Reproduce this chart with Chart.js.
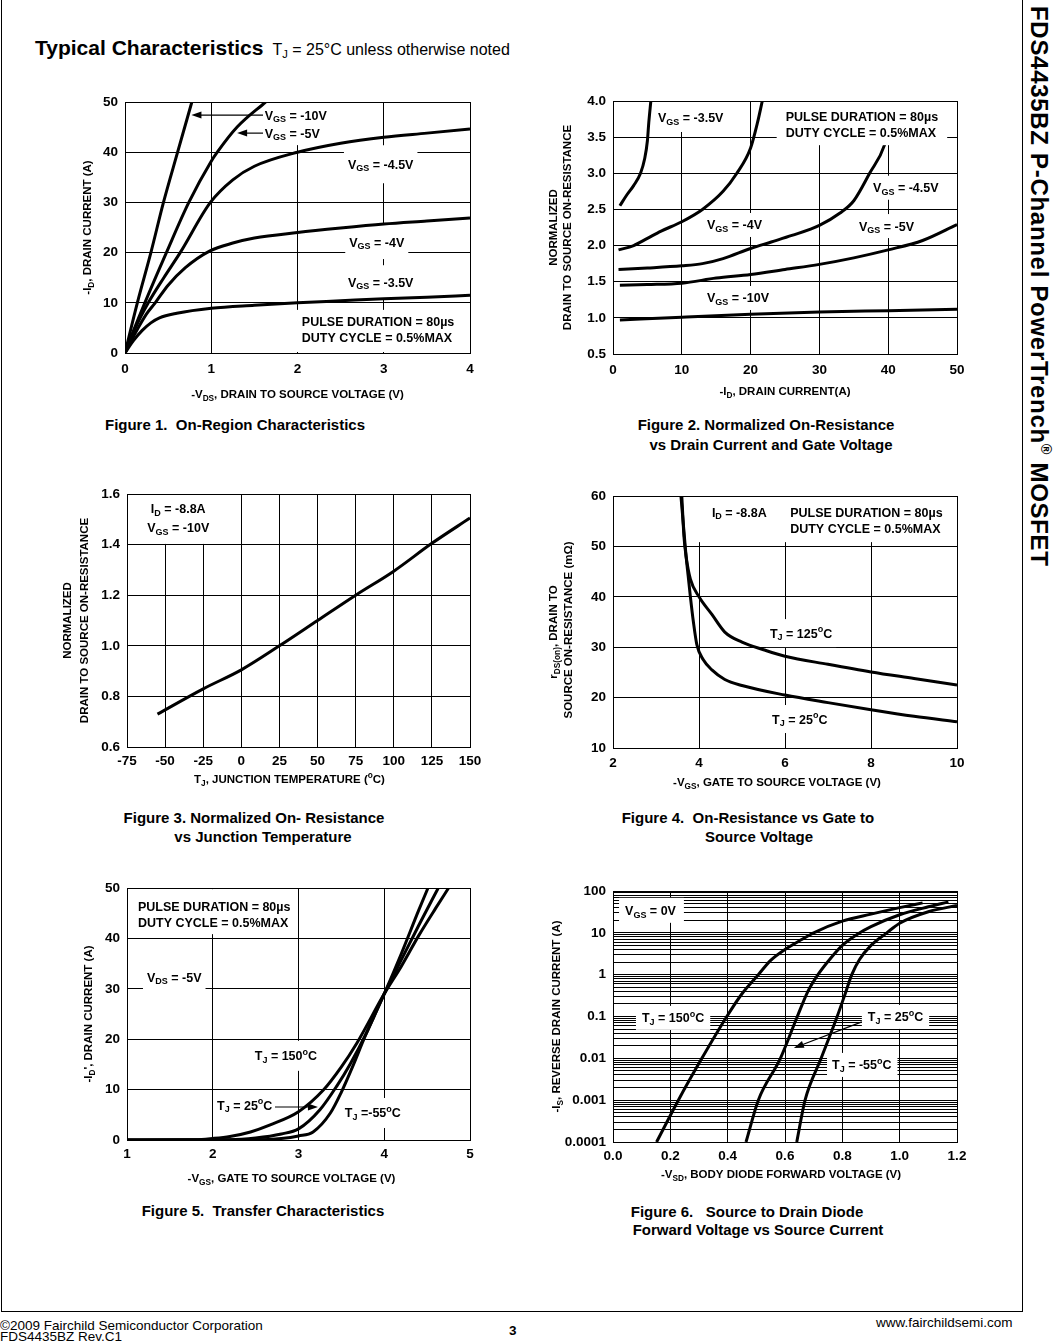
<!DOCTYPE html>
<html>
<head>
<meta charset="utf-8">
<script src="https://cdn.jsdelivr.net/npm/chart.js"></script>
<style>
body { margin: 0; background: #fff; color: #000; font-family: 'Liberation Sans', Arial, Helvetica, sans-serif; }
#page { position: relative; width: 1063px; height: 1344px; overflow: hidden; background: #fff; }
#frame { position: absolute; left: 1px; top: -2px; width: 1020px; height: 1313px; border: 1px solid #000; border-top: none; }
canvas { position: absolute; }
.cap { position: absolute; width: 500px; text-align: center; font-weight: bold; font-size: 15px; line-height: 18px; white-space: pre; }
.foot { position: absolute; font-size: 13.5px; line-height: 13px; white-space: nowrap; }
#side { position: absolute; left: 1058px; top: 6px; transform: rotate(90deg); transform-origin: left top;
        font-size: 24px; line-height: 24px; font-weight: bold; white-space: nowrap; letter-spacing: 0.7px; }
sub { font-size: 70%; vertical-align: -0.25em; }
sup { font-size: 60%; vertical-align: 0.7em; }
</style>
</head>
<body>
<div id="page">
  <div id="frame"></div>
  <div style="position:absolute;left:35px;top:36px;white-space:nowrap;">
    <span style="font-size:21px;font-weight:bold;">Typical Characteristics</span><span style="font-size:16px;margin-left:9px;">T<sub>J</sub> = 25°C unless otherwise noted</span>
  </div>
  <div id="side">FDS4435BZ P-Channel PowerTrench<sup>®</sup> MOSFET</div>

  <div class="cap" style="left:-15px;top:416px;">Figure 1.  On-Region Characteristics</div>
  <div class="cap" style="left:516px;top:416px;">Figure 2. Normalized On-Resistance</div>
  <div class="cap" style="left:521px;top:436px;">vs Drain Current and Gate Voltage</div>
  <div class="cap" style="left:4px;top:809px;">Figure 3. Normalized On- Resistance</div>
  <div class="cap" style="left:13px;top:828px;">vs Junction Temperature</div>
  <div class="cap" style="left:498px;top:809px;">Figure 4.  On-Resistance vs Gate to</div>
  <div class="cap" style="left:509px;top:828px;">Source Voltage</div>
  <div class="cap" style="left:13px;top:1202px;">Figure 5.  Transfer Characteristics</div>
  <div class="cap" style="left:497px;top:1203px;">Figure 6.   Source to Drain Diode</div>
  <div class="cap" style="left:508px;top:1221px;">Forward Voltage vs Source Current</div>

  <div class="foot" style="left:0;top:1319px;">©2009 Fairchild Semiconductor Corporation</div>
  <div class="foot" style="left:0;top:1330px;">FDS4435BZ Rev.C1</div>
  <div class="foot" style="left:509px;top:1324px;font-weight:bold;">3</div>
  <div class="foot" style="left:876px;top:1316px;">www.fairchildsemi.com</div>
</div>
<script>
// ---- Figure 1: On-region characteristics ----
const fig1XTicks = [0, 1, 2, 3, 4];
const fig1XLabels = ['0', '1', '2', '3', '4'];
const fig1YTicks = [0, 10, 20, 30, 40, 50];
const fig1YLabels = ['0', '10', '20', '30', '40', '50'];
const fig1Vgs10X = [0, 0.143, 0.30, 0.446, 0.61, 0.775];
const fig1Vgs10Y = [0, 10, 20, 30, 40, 50];
const fig1Vgs5X = [0, 0.1, 0.23, 0.48, 0.74, 1.0, 1.07, 1.3, 1.63];
const fig1Vgs5Y = [0, 4.5, 10, 20, 30, 38.2, 40, 45, 50];
const fig1Vgs45X = [0, 0.12, 0.27, 0.45, 0.64, 0.99, 1.25, 1.5, 2.0, 2.5, 3.0, 3.5, 4.0];
const fig1Vgs45Y = [0, 5, 10, 15, 20, 30, 34.5, 37.2, 40, 41.8, 43, 43.8, 44.6];
const fig1Vgs4X = [0, 0.12, 0.25, 0.35, 0.5, 0.7, 0.98, 1.25, 1.5, 2.0, 2.5, 3.0, 3.5, 4.0];
const fig1Vgs4Y = [0, 4, 7.8, 10, 13.5, 17, 20.3, 21.9, 22.9, 24.0, 24.9, 25.7, 26.3, 26.9];
const fig1Vgs35X = [0, 0.1, 0.2, 0.3, 0.4, 0.6, 1.0, 1.5, 2.0, 2.5, 3.0, 3.5, 4.0];
const fig1Vgs35Y = [0, 2.5, 4.5, 6.0, 7.0, 7.9, 8.9, 9.5, 10.0, 10.4, 10.8, 11.1, 11.5];

// ---- Figure 2: normalized on-resistance vs drain current ----
const fig2XTicks = [0, 10, 20, 30, 40, 50];
const fig2XLabels = ['0', '10', '20', '30', '40', '50'];
const fig2YTicks = [0.5, 1.0, 1.5, 2.0, 2.5, 3.0, 3.5, 4.0];
const fig2YLabels = ['0.5', '1.0', '1.5', '2.0', '2.5', '3.0', '3.5', '4.0'];
const fig2Vgs35X = [1, 2, 3, 4, 4.6, 5.0, 5.2, 5.5];
const fig2Vgs35Y = [2.55, 2.7, 2.83, 3.0, 3.2, 3.45, 3.7, 4.0];
const fig2Vgs4X = [0.8, 3, 5, 7, 10, 13, 16, 18, 20, 21, 21.7];
const fig2Vgs4Y = [1.94, 2.0, 2.1, 2.2, 2.33, 2.5, 2.75, 3.0, 3.35, 3.7, 4.0];
const fig2Vgs45X = [0.8, 5, 10, 13, 16, 20, 23, 26, 30, 33, 35, 37.3, 39.5, 41];
const fig2Vgs45Y = [1.67, 1.69, 1.72, 1.75, 1.82, 1.96, 2.05, 2.14, 2.28, 2.45, 2.62, 3.0, 3.4, 4.0];
const fig2Vgs5X = [1, 5, 10, 15, 20, 25, 30, 35, 40, 45, 50];
const fig2Vgs5Y = [1.45, 1.46, 1.48, 1.55, 1.6, 1.67, 1.74, 1.83, 1.94, 2.07, 2.29];
const fig2Vgs10X = [1, 10, 20, 30, 40, 50];
const fig2Vgs10Y = [0.97, 1.01, 1.05, 1.08, 1.1, 1.12];

// ---- Figure 3: normalized on-resistance vs junction temperature ----
const fig3XTicks = [-75, -50, -25, 0, 25, 50, 75, 100, 125, 150];
const fig3XLabels = ['-75', '-50', '-25', '0', '25', '50', '75', '100', '125', '150'];
const fig3YTicks = [0.6, 0.8, 1.0, 1.2, 1.4, 1.6];
const fig3YLabels = ['0.6', '0.8', '1.0', '1.2', '1.4', '1.6'];
const fig3TempX = [-55, -25, 0, 25, 50, 75, 100, 125, 150];
const fig3RdsY = [0.73, 0.83, 0.905, 1.0, 1.1, 1.2, 1.295, 1.405, 1.505];

// ---- Figure 4: on-resistance vs gate to source voltage ----
const fig4XTicks = [2, 4, 6, 8, 10];
const fig4XLabels = ['2', '4', '6', '8', '10'];
const fig4YTicks = [10, 20, 30, 40, 50, 60];
const fig4YLabels = ['10', '20', '30', '40', '50', '60'];
const fig4T125X = [3.6, 3.65, 3.7, 3.8, 4.0, 4.3, 4.6, 5, 5.5, 6, 7, 8, 9, 10];
const fig4T125Y = [60, 52, 48, 43.5, 40, 36.5, 33, 31, 29.5, 28.2, 26.6, 25.1, 23.8, 22.5];
const fig4T25X = [3.58, 3.65, 3.7, 3.75, 3.8, 3.87, 3.95, 4.1, 4.3, 4.6, 5, 6, 7, 8, 9, 10];
const fig4T25Y = [60, 53, 48, 44, 40, 35, 30.5, 27.5, 25.5, 23.6, 22.4, 20.5, 19, 17.6, 16.3, 15.2];

// ---- Figure 5: transfer characteristics ----
const fig5XTicks = [1, 2, 3, 4, 5];
const fig5XLabels = ['1', '2', '3', '4', '5'];
const fig5YTicks = [0, 10, 20, 30, 40, 50];
const fig5YLabels = ['0', '10', '20', '30', '40', '50'];
const fig5T150X = [1, 1.8, 2.0, 2.2, 2.44, 2.67, 3.0, 3.29, 3.5, 3.68, 4.0, 4.2, 4.4, 4.6, 4.75];
const fig5T150Y = [0, 0.05, 0.3, 0.7, 1.6, 3.0, 5.6, 9.9, 14.5, 19.2, 29, 34.5, 40.5, 46, 50];
const fig5T25X = [1, 2.2, 2.5, 2.8, 3.0, 3.25, 3.45, 3.6, 3.8, 4.0, 4.2, 4.4, 4.63];
const fig5T25Y = [0, 0.05, 0.4, 1.2, 2.2, 6.0, 10.8, 15, 21.5, 29, 35.8, 42.5, 50];
const fig5Tm55X = [1, 2.5, 2.8, 3.0, 3.17, 3.37, 3.5, 3.63, 3.76, 3.88, 4.0, 4.2, 4.4, 4.51];
const fig5Tm55Y = [0, 0.05, 0.3, 0.8, 1.6, 5.3, 9.5, 14.5, 19.9, 24.5, 29, 37, 45.5, 50];

// ---- Figure 6: body diode forward voltage vs source current ----
const fig6XTicks = [0, 0.2, 0.4, 0.6, 0.8, 1.0, 1.2];
const fig6XLabels = ['0.0', '0.2', '0.4', '0.6', '0.8', '1.0', '1.2'];
const fig6YDecades = [0.0001, 0.001, 0.01, 0.1, 1, 10, 100];
const fig6YLabels = ['0.0001', '0.001', '0.01', '0.1', '1', '10', '100'];
const fig6YMinor = [2, 3, 4, 5, 6, 7, 8, 9];
const fig6T150X = [0.152, 0.228, 0.31, 0.397, 0.45, 0.507, 0.55, 0.6, 0.66, 0.7, 0.8, 0.9, 1.0, 1.08];
const fig6T150Y = [0.0001, 0.001, 0.01, 0.1, 0.35, 1, 2.2, 4, 7, 10, 19, 28, 40, 52];
const fig6T25X = [0.464, 0.507, 0.584, 0.643, 0.68, 0.715, 0.76, 0.8, 0.85, 0.9, 1.0, 1.1, 1.17];
const fig6T25Y = [0.0001, 0.001, 0.01, 0.1, 0.4, 1, 2.5, 5, 9, 14, 27, 42, 55];
const fig6Tm55X = [0.641, 0.67, 0.726, 0.782, 0.81, 0.833, 0.86, 0.9, 0.955, 1.0, 1.1, 1.2];
const fig6Tm55Y = [0.0001, 0.001, 0.01, 0.1, 0.35, 1, 2.3, 5, 10, 17, 32, 45];

const FONT = "'Liberation Sans', Arial, Helvetica, sans-serif";
const LABEL_SIZE = 12.5, TICK_SIZE = 13.5, TITLE_SIZE = 11.5;
const page = document.getElementById('page');

// text with _{sub} and ^{sup} parts
function parseRich(s) {
  const out = [], re = /([_^])\{([^}]*)\}/g;
  let last = 0, m;
  while ((m = re.exec(s))) {
    if (m.index > last) out.push({ t: s.slice(last, m.index), k: 0 });
    out.push({ t: m[2], k: m[1] === '_' ? 1 : 2 });
    last = re.lastIndex;
  }
  if (last < s.length) out.push({ t: s.slice(last), k: 0 });
  return out;
}
function fontOf(size) { return 'bold ' + size + 'px ' + FONT; }
function richWidth(ctx, s, size) {
  let w = 0;
  parseRich(s).forEach(p => { ctx.font = fontOf(p.k ? size * 0.72 : size); w += ctx.measureText(p.t).width; });
  return w;
}
function drawRich(ctx, s, x, y, size, align) {
  const w = richWidth(ctx, s, size);
  let cx = align === 'center' ? x - w / 2 : align === 'right' ? x - w : x;
  ctx.textAlign = 'left';
  ctx.textBaseline = 'alphabetic';
  const base = y + size * 0.36;
  parseRich(s).forEach(p => {
    ctx.font = fontOf(p.k ? size * 0.72 : size);
    const dy = p.k === 1 ? size * 0.22 : p.k === 2 ? -size * 0.42 : 0;
    ctx.fillText(p.t, cx, base + dy);
    cx += ctx.measureText(p.t).width;
  });
}

// labels on white boxes, arrows and axis titles
function notes(spec) {
  const geom = (chart, lb) => {
    const ctx = chart.ctx;
    const px = chart.scales.x.getPixelForValue(lb.x);
    const py = chart.scales.y.getPixelForValue(lb.y);
    const lh = lb.lh || 16;
    const wmax = Math.max(...lb.lines.map(t => richWidth(ctx, t, LABEL_SIZE)));
    const x0 = lb.align === 'center' ? px - wmax / 2 : px;
    const p = lb.pad || [4, 4, 4, 4];
    return { px, py, lh, x0, box: [x0 - p[0], py - 7 - p[1], wmax + p[0] + p[2], (lb.lines.length - 1) * lh + 14 + p[1] + p[3]] };
  };
  const boxes = (chart, over) => {
    const ctx = chart.ctx, a = chart.chartArea;
    ctx.save();
    ctx.beginPath();
    ctx.rect(a.left + 1, a.top + 1, a.right - a.left - 2, a.bottom - a.top - 2);
    ctx.clip();
    ctx.fillStyle = '#fff';
    spec.labels.filter(lb => !!lb.over === over).forEach(lb => {
      const b = geom(chart, lb).box;
      ctx.fillRect(b[0], b[1], b[2], b[3]);
    });
    ctx.restore();
  };
  return {
    id: 'notes',
    beforeDatasetsDraw(chart) { boxes(chart, false); },
    afterDatasetsDraw(chart) {
      boxes(chart, true);
      const ctx = chart.ctx, xs = chart.scales.x, ys = chart.scales.y;
      ctx.save();
      ctx.fillStyle = '#000';
      spec.labels.forEach(lb => {
        const g = geom(chart, lb);
        lb.lines.forEach((t, i) => {
          if (lb.align === 'center') drawRich(ctx, t, g.px, g.py + i * g.lh, LABEL_SIZE, 'center');
          else drawRich(ctx, t, g.x0, g.py + i * g.lh, LABEL_SIZE, 'left');
        });
      });
      ctx.strokeStyle = '#000';
      ctx.lineWidth = 1.2;
      (spec.arrows || []).forEach(ar => {
        const x1 = xs.getPixelForValue(ar.x1), y1 = ys.getPixelForValue(ar.y1);
        const x2 = xs.getPixelForValue(ar.x2), y2 = ys.getPixelForValue(ar.y2);
        const ang = Math.atan2(y2 - y1, x2 - x1), c = Math.cos(ang), s = Math.sin(ang);
        ctx.beginPath();
        ctx.moveTo(x1, y1);
        ctx.lineTo(x2 - 6 * c, y2 - 6 * s);
        ctx.stroke();
        ctx.beginPath();
        ctx.moveTo(x2, y2);
        ctx.lineTo(x2 - 10 * c + 3.5 * s, y2 - 10 * s - 3.5 * c);
        ctx.lineTo(x2 - 10 * c - 3.5 * s, y2 - 10 * s + 3.5 * c);
        ctx.closePath();
        ctx.fill();
      });
      ctx.restore();
    },
    afterDraw(chart) {
      const ctx = chart.ctx, a = chart.chartArea;
      ctx.save();
      ctx.fillStyle = '#000';
      const xt = spec.xTitle;
      drawRich(ctx, xt.text, (a.left + a.right) / 2 + (xt.dx || 0), a.bottom + xt.dy, TITLE_SIZE, 'center');
      spec.yTitles.forEach(t => {
        ctx.save();
        ctx.translate(a.left + t.dx, (a.top + a.bottom) / 2 + (t.dy || 0));
        ctx.rotate(-Math.PI / 2);
        drawRich(ctx, t.text, 0, 0, TITLE_SIZE, 'center');
        ctx.restore();
      });
      ctx.restore();
    }
  };
}

function axisOpts(ax, isY) {
  return {
    type: ax.type || 'linear',
    min: ax.min,
    max: ax.max,
    afterBuildTicks: s => { s.ticks = ax.ticks.map(v => ({ value: v })); },
    afterFit: s => { if (isY) s.width = 50; else s.height = 40; },
    grid: { color: '#000', lineWidth: 1, drawTicks: false },
    border: { color: '#000', width: 1 },
    ticks: {
      autoSkip: false, maxRotation: 0, padding: ax.pad || 7, color: '#000',
      font: { family: FONT, size: TICK_SIZE, weight: 'bold' },
      callback: (v, i) => ax.labels[i]
    }
  };
}

function pairs(xs, ys) { return xs.map((x, i) => ({ x: x, y: ys[i] })); }

function plot(area, xAxis, yAxis, series, spec) {
  const cv = document.createElement('canvas');
  cv.width = area.R - area.L + 125;
  cv.height = area.B - area.T + 80;
  cv.style.left = (area.L - 100) + 'px';
  cv.style.top = (area.T - 20) + 'px';
  page.appendChild(cv);
  return new Chart(cv, {
    type: 'scatter',
    data: {
      datasets: series.map(s => ({
        data: pairs(s[0], s[1]), showLine: true, borderColor: '#000', borderWidth: 3,
        pointRadius: 0, fill: false, cubicInterpolationMode: 'monotone'
      }))
    },
    options: {
      responsive: false, animation: false, events: [],
      layout: { padding: { left: 50, top: 20, right: 25, bottom: 20 } },
      plugins: { legend: { display: false }, tooltip: { enabled: false } },
      scales: { x: axisOpts(xAxis, false), y: axisOpts(yAxis, true) }
    },
    plugins: [notes(spec)]
  });
}

const PULSE = ['PULSE DURATION = 80µs', 'DUTY CYCLE = 0.5%MAX'];

// Figure 1
plot({ L: 125, T: 102, R: 470, B: 353 },
  { min: 0, max: 4, ticks: fig1XTicks, labels: fig1XLabels, pad: 8 },
  { min: 0, max: 50, ticks: fig1YTicks, labels: fig1YLabels },
  [[fig1Vgs10X, fig1Vgs10Y], [fig1Vgs5X, fig1Vgs5Y], [fig1Vgs45X, fig1Vgs45Y], [fig1Vgs4X, fig1Vgs4Y], [fig1Vgs35X, fig1Vgs35Y]],
  {
    labels: [
      { x: 1.62, y: 47.4, lines: ['V_{GS} = -10V'], pad: [3, 6, 5, 4] },
      { x: 1.62, y: 43.8, lines: ['V_{GS} = -5V'], pad: [3, 4, 12, 5] },
      { x: 2.585, y: 37.6, lines: ['V_{GS} = -4.5V'], pad: [4, 12, 4, 12] },
      { x: 2.6, y: 22.1, lines: ['V_{GS} = -4V'], pad: [4, 10, 4, 10] },
      { x: 2.585, y: 14.1, lines: ['V_{GS} = -3.5V'], pad: [4, 10, 4, 9] },
      { x: 2.05, y: 6.2, lines: PULSE, pad: [5, 5, 5, 8] }
    ],
    arrows: [{ x1: 1.6, y1: 47.4, x2: 0.77, y2: 47.4 }, { x1: 1.6, y1: 43.8, x2: 1.3, y2: 43.8 }],
    xTitle: { text: '-V_{DS}, DRAIN TO SOURCE VOLTAGE (V)', dy: 41 },
    yTitles: [{ text: '-I_{D}, DRAIN CURRENT (A)', dx: -38 }]
  });

// Figure 2
plot({ L: 613, T: 101, R: 957, B: 354 },
  { min: 0, max: 50, ticks: fig2XTicks, labels: fig2XLabels, pad: 8 },
  { min: 0.5, max: 4, ticks: fig2YTicks, labels: fig2YLabels },
  [[fig2Vgs35X, fig2Vgs35Y], [fig2Vgs4X, fig2Vgs4Y], [fig2Vgs45X, fig2Vgs45Y], [fig2Vgs5X, fig2Vgs5Y], [fig2Vgs10X, fig2Vgs10Y]],
  {
    labels: [
      { x: 6.54, y: 3.765, lines: ['V_{GS} = -3.5V'], pad: [4, 10, 4, 7] },
      { x: 25.1, y: 3.79, lines: PULSE, pad: [9, 9, 9, 6], over: true },
      { x: 37.8, y: 2.80, lines: ['V_{GS} = -4.5V'], pad: [4, 5, 4, 5] },
      { x: 13.66, y: 2.285, lines: ['V_{GS} = -4V'], pad: [4, 5, 4, 5] },
      { x: 35.76, y: 2.27, lines: ['V_{GS} = -5V'], pad: [4, 5, 4, 5] },
      { x: 13.66, y: 1.275, lines: ['V_{GS} = -10V'], pad: [4, 5, 4, 5] }
    ],
    xTitle: { text: '-I_{D}, DRAIN CURRENT(A)', dy: 37 },
    yTitles: [{ text: 'NORMALIZED', dx: -60 }, { text: 'DRAIN TO SOURCE ON-RESISTANCE', dx: -46 }]
  });

// Figure 3
plot({ L: 127, T: 494, R: 470, B: 747 },
  { min: -75, max: 150, ticks: fig3XTicks, labels: fig3XLabels, pad: 6 },
  { min: 0.6, max: 1.6, ticks: fig3YTicks, labels: fig3YLabels },
  [[fig3TempX, fig3RdsY]],
  {
    labels: [
      { x: -41.4, y: 1.541, lines: ['I_{D} = -8.8A', 'V_{GS} = -10V'], align: 'center', lh: 19, pad: [6, 8, 6, 9] }
    ],
    xTitle: { text: 'T_{J}, JUNCTION TEMPERATURE (^{o}C)', dy: 32, dx: -9 },
    yTitles: [{ text: 'NORMALIZED', dx: -60 }, { text: 'DRAIN TO SOURCE ON-RESISTANCE', dx: -43 }]
  });

// Figure 4
plot({ L: 613, T: 496, R: 957, B: 748 },
  { min: 2, max: 10, ticks: fig4XTicks, labels: fig4XLabels, pad: 7 },
  { min: 10, max: 60, ticks: fig4YTicks, labels: fig4YLabels },
  [[fig4T125X, fig4T125Y], [fig4T25X, fig4T25Y]],
  {
    labels: [
      { x: 4.30, y: 56.8, lines: ['I_{D} = -8.8A'], pad: [14, 10, 6, 23] },
      { x: 6.12, y: 56.8, lines: PULSE, pad: [6, 10, 6, 7] },
      { x: 5.65, y: 32.8, lines: ['T_{J} = 125^{o}C'], pad: [4, 7, 4, 7] },
      { x: 5.70, y: 15.75, lines: ['T_{J} = 25^{o}C'], pad: [4, 7, 4, 7] }
    ],
    xTitle: { text: '-V_{GS}, GATE TO SOURCE VOLTAGE (V)', dy: 34, dx: -8 },
    yTitles: [{ text: 'r_{DS(on)}, DRAIN TO', dx: -60, dy: 10 }, { text: 'SOURCE ON-RESISTANCE (mΩ)', dx: -45, dy: 8 }]
  });

// Figure 5
plot({ L: 127, T: 888, R: 470, B: 1140 },
  { min: 1, max: 5, ticks: fig5XTicks, labels: fig5XLabels, pad: 6 },
  { min: 0, max: 50, ticks: fig5YTicks, labels: fig5YLabels },
  [[fig5T150X, fig5T150Y], [fig5T25X, fig5T25Y], [fig5Tm55X, fig5Tm55Y]],
  {
    labels: [
      { x: 1.128, y: 46.4, lines: PULSE, pad: [5, 10, 5, 5] },
      { x: 1.233, y: 32.3, lines: ['V_{DS} = -5V'], pad: [4, 5, 4, 5] },
      { x: 2.49, y: 16.7, lines: ['T_{J} = 150^{o}C'], pad: [4, 8, 4, 8] },
      { x: 2.05, y: 6.94, lines: ['T_{J} = 25^{o}C'], pad: [3, 4, 3, 4] },
      { x: 3.54, y: 5.36, lines: ['T_{J} =-55^{o}C'], pad: [4, 8, 4, 8] }
    ],
    arrows: [{ x1: 2.726, y1: 6.55, x2: 3.227, y2: 6.55 }],
    xTitle: { text: '-V_{GS}, GATE TO SOURCE VOLTAGE (V)', dy: 38, dx: -7 },
    yTitles: [{ text: "-I_{D}', DRAIN CURRENT (A)", dx: -39 }]
  });

// Figure 6 (log axis: decade grid plus 2..9 sub-lines)
const fig6YTicks = [], fig6YTickLabels = [];
fig6YDecades.forEach((d, i) => {
  fig6YTicks.push(d);
  fig6YTickLabels.push(fig6YLabels[i]);
  if (i < fig6YDecades.length - 1) fig6YMinor.forEach(m => { fig6YTicks.push(d * m); fig6YTickLabels.push(''); });
});
plot({ L: 613, T: 891, R: 957, B: 1142 },
  { min: 0, max: 1.2, ticks: fig6XTicks, labels: fig6XLabels, pad: 6 },
  { type: 'logarithmic', min: 0.0001, max: 100, ticks: fig6YTicks, labels: fig6YTickLabels },
  [[fig6T150X, fig6T150Y], [fig6T25X, fig6T25Y], [fig6Tm55X, fig6Tm55Y]],
  {
    labels: [
      { x: 0.042, y: 33.6, lines: ['V_{GS} = 0V'], pad: [6, 6, 8, 5] },
      { x: 0.101, y: 0.0927, lines: ['T_{J} = 150^{o}C'], pad: [6, 5, 6, 5] },
      { x: 0.889, y: 0.0977, lines: ['T_{J} = 25^{o}C'], pad: [6, 5, 6, 5] },
      { x: 0.764, y: 0.00696, lines: ['T_{J} = -55^{o}C'], pad: [5, 5, 6, 5] }
    ],
    arrows: [{ x1: 0.868, y1: 0.0743, x2: 0.631, y2: 0.0177 }],
    xTitle: { text: '-V_{SD}, BODY DIODE FORWARD VOLTAGE (V)', dy: 32, dx: -4 },
    yTitles: [{ text: '-I_{S}, REVERSE DRAIN CURRENT (A)', dx: -57 }]
  });
</script>
</body>
</html>
